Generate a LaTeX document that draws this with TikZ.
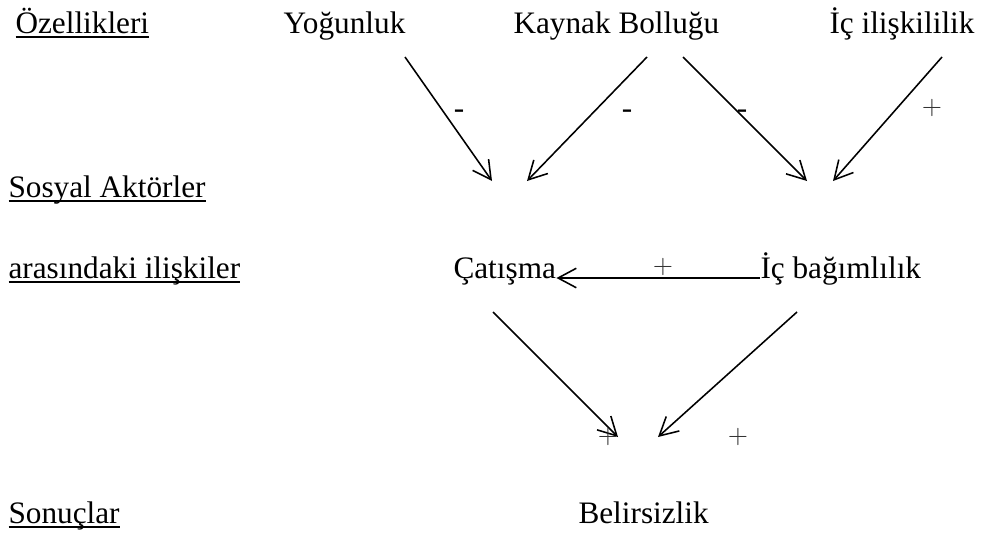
\documentclass[tikz,border=0pt]{standalone}
\usepackage{fontspec}
\setmainfont{Liberation Serif}
\usetikzlibrary{arrows.meta}
\newcommand{\ulbox}[1]{\setbox0\hbox{#1}\rlap{\rule[-2pt]{\wd0}{0.7pt}}\box0}

\begin{document}
\begin{tikzpicture}[x=0.384pt,y=-0.384pt,
    lbl/.style={anchor=base west,inner sep=0pt,font=\fontsize{12}{14}\selectfont},
    minus/.style={anchor=base,inner sep=0pt,font=\fontsize{12}{14}\selectfont},
    plus/.style={inner sep=0pt,text=black!80,font=\fontsize{10}{12}\selectfont},
    link/.style={line width=0.6pt,-{Straight Barb[length=7pt,width=7.5pt,line width=0.6pt]}}]
  \useasboundingbox (0,0) rectangle (981,533);

  % row titles
  \node[lbl] (ozel)   at (15,33)  {\ulbox{Özellikleri}};
  \node[lbl] (sosyal) at (8,197)  {\ulbox{Sosyal Aktörler}};
  \node[lbl] (aras)   at (8,278)  {\ulbox{arasındaki ilişkiler}};
  \node[lbl] (sonuc)  at (8,523)  {\ulbox{Sonuçlar}};

  \node[lbl] (yog)   at (283,33)  {Yoğunluk};
  \node[lbl] (kay)   at (513,33)  {Kaynak Bolluğu};
  \node[lbl] (icil)  at (829,33)  {İç ilişkililik};
  \node[lbl] (cat)   at (453,278) {Çatışma};
  \node[lbl] (icbag) at (760,278) {İç bağımlılık};
  \node[lbl] (bel)   at (578,523) {Belirsizlik};

  \coordinate (yogOut)  at (405,57);
  \coordinate (catInA)  at (492,181);
  \coordinate (kayOutL) at (647,57);
  \coordinate (catInB)  at (527,181);
  \coordinate (kayOutR) at (683,57);
  \coordinate (bagInA)  at (807,181);
  \coordinate (icilOut) at (942,57);
  \coordinate (bagInB)  at (833,181);
  \coordinate (catOut)  at (493,312);
  \coordinate (belInA)  at (618,437);
  \coordinate (bagOut)  at (797,312);
  \coordinate (belInB)  at (658,437);

  \draw[link] (yogOut) -- (catInA);
  \draw[link] (kayOutL) -- (catInB);
  \draw[link] (kayOutR) -- (bagInA);
  \draw[link] (icilOut) -- (bagInB);
  \draw[link] (icbag.base west) -- (cat.base east);
  \draw[link] (catOut) -- (belInA);
  \draw[link] (bagOut) -- (belInB);

  % signs
  \node[minus] (s1) at (459,118) {-};
  \node[minus] (s2) at (627,118) {-};
  \node[minus] (s3) at (742,118) {-};
  \node[plus] (s4) at (932,108) {$+$};
  \node[plus] (s5) at (663,267) {$+$};
  \node[plus] (s6) at (608,437) {$+$};
  \node[plus] (s7) at (738,437) {$+$};

\end{tikzpicture}
\end{document}
